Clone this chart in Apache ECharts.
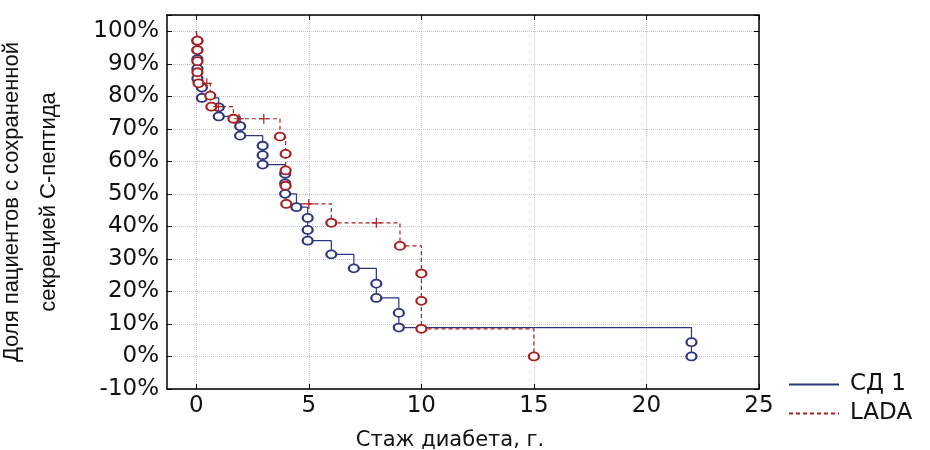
<!DOCTYPE html>
<html>
<head>
<meta charset="utf-8">
<script src="https://cdn.jsdelivr.net/npm/echarts@6/dist/echarts.min.js"></script>
<style>
  html, body { margin: 0; padding: 0; background: #fff; }
  #chart { width: 930px; height: 450px; }
</style>
</head>
<body>
<div id="chart"></div>
<script>
// time (years), survival (%) and marker: 0 none, 1 event circle, 2 censored cross
var sd1Time = [0, 0.05, 0.05, 0.05, 0.05, 0.05, 0.25, 0.25, 1.0, 1.0, 1.95, 1.95, 2.95, 2.95, 2.95,
               3.95, 3.95, 3.95, 4.45, 4.95, 4.95, 4.95, 6, 7, 8, 8, 9, 9, 22, 22];
var sd1Surv = [100, 97.1, 94.2, 91.4, 88.5, 85.5, 82.7, 79.5, 76.6, 73.8, 70.8, 67.9, 64.8, 61.9, 59.0,
               56.2, 53.2, 50.0, 45.9, 42.6, 38.9, 35.6, 31.4, 27.1, 22.4, 18.0, 13.4, 8.9, 4.4, 0];
var sd1Mark = [0, 1, 1, 1, 1, 1, 1, 1, 1, 1, 1, 1, 1, 1, 1,
               1, 1, 1, 1, 1, 1, 1, 1, 1, 1, 1, 1, 1, 1, 1];

var ladaTime = [0, 0.05, 0.05, 0.05, 0.05, 0.1, 0.47, 0.62, 0.67, 0.98, 1.65, 1.9, 3.0, 3.72,
                3.97, 3.97, 3.97, 4.0, 5.0, 6.0, 8.0, 9.05, 10, 10, 10, 15];
var ladaSurv = [100, 97.1, 94.2, 90.8, 87.4, 84.0, 84.0, 80.2, 76.8, 76.8, 73.1, 73.1, 73.1, 67.6,
                62.3, 57.2, 52.5, 46.9, 46.9, 41.1, 41.1, 34.0, 25.5, 17.1, 8.5, 0];
var ladaMark = [0, 1, 1, 1, 1, 1, 2, 1, 1, 2, 1, 2, 2, 1,
                1, 1, 1, 1, 2, 1, 2, 1, 1, 1, 1, 1];

var xTicks = [0, 5, 10, 15, 20, 25];

var blue = '#2d3680';
var red = '#a82020';
var plusPath = 'path://M0,4.4H10V5.6H0Z M4.4,0H5.6V10H4.4Z';

function build(t, s, m, color) {
    var out = [];
    for (var i = 0; i < t.length; i++) {
        var item = { value: [t[i], s[i]] };
        if (m[i] === 0) {
            item.symbol = 'none';
        } else if (m[i] === 2) {
            item.symbol = plusPath;
            item.symbolSize = 10;
            item.itemStyle = { color: color, borderWidth: 0 };
        }
        out.push(item);
    }
    return out;
}

var chart = echarts.init(document.getElementById('chart'));
var tickFont = { fontFamily: 'DejaVu Sans', fontSize: 23, color: '#111' };
var frameLine = { onZero: false, lineStyle: { color: '#000', width: 1.5 } };
var grid = { show: true, lineStyle: { color: '#c4c4c4', type: 'dotted' } };

chart.setOption({
    animation: false,
    backgroundColor: '#fff',
    grid: { left: 167, right: 171, top: 15, bottom: 61, outerBoundsMode: 'none', containLabel: false },
    legend: {
        orient: 'vertical',
        left: 783,
        top: 368,
        itemWidth: 50,
        itemHeight: 10,
        itemGap: 6,
        itemStyle: { opacity: 0 },
        textStyle: { fontFamily: 'DejaVu Sans', fontSize: 23, color: '#111', padding: [0, 0, 0, 6] },
        data: ['СД 1', 'LADA']
    },
    xAxis: [{
        type: 'value',
        min: -1.3,
        max: 25,
        name: 'Стаж диабета, г.',
        nameLocation: 'middle',
        nameGap: 41,
        nameTextStyle: { fontFamily: 'DejaVu Sans', fontSize: 21, color: '#111', padding: [0, 26, 0, 0] },
        axisLine: frameLine,
        axisTick: { inside: true, length: 5, customValues: xTicks, lineStyle: { color: '#000' } },
        axisLabel: Object.assign({ margin: 6, customValues: xTicks }, tickFont),
        splitLine: grid
    }, {
        type: 'value',
        position: 'top',
        min: -1.3,
        max: 25,
        axisLine: frameLine,
        axisTick: { inside: true, length: 5, customValues: xTicks, lineStyle: { color: '#000' } },
        axisLabel: { show: false },
        splitLine: { show: false }
    }],
    yAxis: [{
        type: 'value',
        min: -10,
        max: 105,
        interval: 10,
        name: 'Доля пациентов с сохраненной\nсекрецией С-пептида',
        nameLocation: 'middle',
        nameRotate: 90,
        nameGap: 100,
        nameTextStyle: { fontFamily: 'Liberation Sans', fontSize: 22, lineHeight: 37, color: '#111' },
        axisLine: Object.assign({ show: true }, frameLine),
        axisTick: { show: true, inside: true, length: 5, lineStyle: { color: '#000' } },
        axisLabel: Object.assign({
            margin: 8,
            formatter: function (v) { return v > 100 ? '' : v + '%'; }
        }, tickFont),
        splitLine: grid
    }, {
        type: 'value',
        position: 'right',
        min: -10,
        max: 105,
        interval: 10,
        axisLine: Object.assign({ show: true }, frameLine),
        axisTick: { show: true, inside: true, length: 5, lineStyle: { color: '#000' } },
        axisLabel: { show: false },
        splitLine: { show: false }
    }],
    series: [{
        name: 'СД 1',
        type: 'line',
        step: 'end',
        clip: false,
        symbol: 'emptyCircle',
        symbolSize: [10, 8],
        lineStyle: { color: blue, width: 1.2 },
        itemStyle: { color: blue, borderWidth: 1 },
        data: build(sd1Time, sd1Surv, sd1Mark, blue)
    }, {
        name: 'LADA',
        type: 'line',
        step: 'end',
        clip: false,
        symbol: 'emptyCircle',
        symbolSize: [10, 8],
        lineStyle: { color: red, width: 1.2, type: [4, 3] },
        itemStyle: { color: red, borderWidth: 1 },
        data: build(ladaTime, ladaSurv, ladaMark, red)
    }]
});
</script>
</body>
</html>
